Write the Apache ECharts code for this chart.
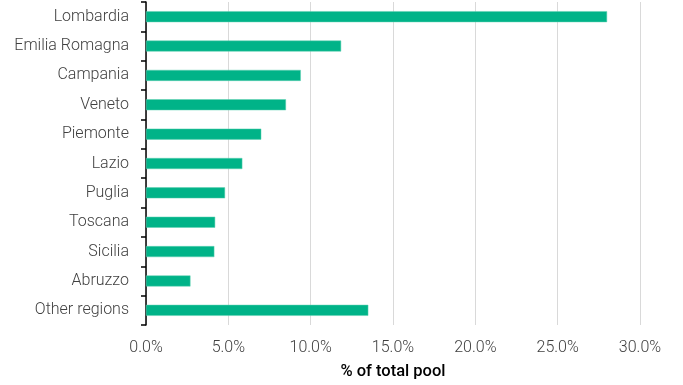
<!DOCTYPE html>
<html><head><meta charset="utf-8">
<script src="https://cdn.jsdelivr.net/npm/echarts@6/dist/echarts.min.js"></script>
<style>html,body{margin:0;padding:0;background:#fff}#c{width:683px;height:385px}</style>
</head><body><div id="c"></div>
<script>
const categories = ["Lombardia","Emilia Romagna","Campania","Veneto","Piemonte","Lazio","Puglia","Toscana","Sicilia","Abruzzo","Other regions"];
const values = [28.0, 11.85, 9.4, 8.5, 7.0, 5.85, 4.8, 4.2, 4.15, 2.7, 13.5];
const xTicks = {min: 0, max: 30, interval: 5};
const axisTitle = "% of total pool";

const chart = echarts.init(document.getElementById('c'));
chart.setOption({
  animation: false,
  grid: {left: 146, right: 43, top: 2, bottom: 59, containLabel: false},
  xAxis: {
    type: 'value', min: xTicks.min, max: xTicks.max, interval: xTicks.interval,
    name: axisTitle, nameLocation: 'middle', nameGap: 38,
    nameTextStyle: {fontFamily: 'Roboto', fontSize: 16.5, color: '#000', fontWeight: 500},
    axisLine: {show: false}, axisTick: {show: false},
    splitLine: {show: true, lineStyle: {color: '#d9d9d9', width: 1}},
    axisLabel: {fontFamily: 'Roboto', fontWeight: 300, fontSize: 16, color: '#404040', margin: 15,
      formatter: v => v.toFixed(1) + '%'}
  },
  yAxis: {
    type: 'category', data: categories, inverse: true,
    axisLine: {show: true, lineStyle: {color: '#000', width: 1.5}},
    axisTick: {show: true, length: 5, lineStyle: {color: '#000', width: 1.5}},
    axisLabel: {fontFamily: 'Roboto', fontWeight: 300, fontSize: 16, color: '#404040', margin: 17}
  },
  series: [{
    type: 'bar', data: values, barWidth: 11,
    itemStyle: {color: '#00B388', borderColor: '#5fd0b2', borderWidth: 0.5}
  }]
});
</script></body></html>
